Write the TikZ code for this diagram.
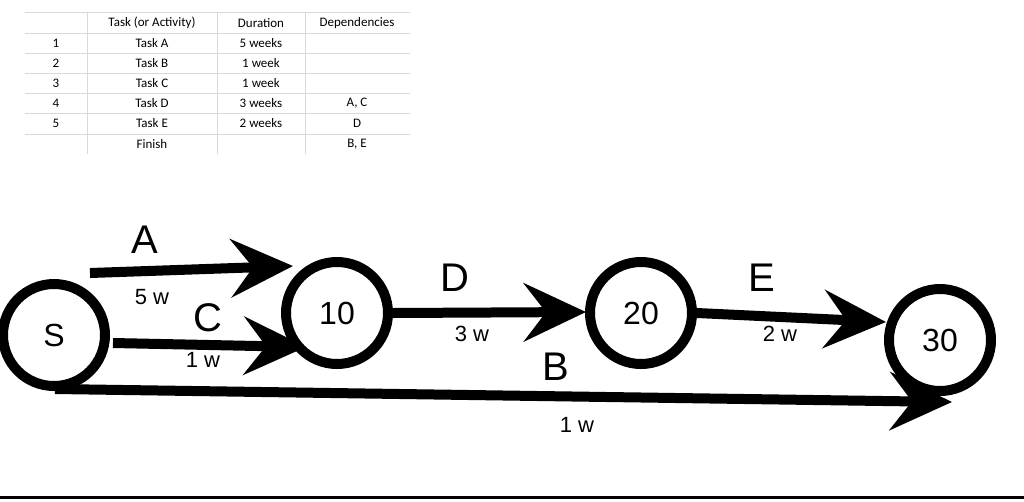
\documentclass[tikz,border=0pt]{standalone}
\usepackage{fontspec}
\setmainfont{Liberation Sans}
\newfontfamily\tabfont{Carlito}
\usetikzlibrary{arrows.meta}
\begin{document}
\begin{tikzpicture}[x=1pt,y=-1pt,
  ev/.style={circle,draw,line width=10pt,minimum size=102pt,inner sep=0pt,font=\fontsize{32}{32}\selectfont},
  act/.style={line width=10pt,-{Stealth[length=62pt,width=58pt,inset=22pt]}},
  big/.style={font=\fontsize{40}{40}\selectfont},
  dur/.style={font=\fontsize{22}{22}\selectfont},
  cell/.style={font=\tabfont\fontsize{13}{13}\selectfont,inner sep=0pt},
  grid/.style={draw=black!15,line width=0.8pt}]
\useasboundingbox (0,0) rectangle (1024,501);
% table
\foreach \y in {12,33,53,73,93,113,134} \draw[grid] (25,\y) -- (410,\y);
\foreach \x in {87,217,305} \draw[grid] (\x,12) -- (\x,154);
\node[cell] (h1) at (152,23) {Task (or Activity)};
\node[cell] (h2) at (261,23) {Duration};
\node[cell] (h3) at (357,23) {Dependencies};
\node[cell] (r1a) at (56,43) {1}; \node[cell] (r1b) at (152,43) {Task A}; \node[cell] (r1c) at (261,43) {5 weeks};
\node[cell] (r2a) at (56,63) {2}; \node[cell] (r2b) at (152,63) {Task B}; \node[cell] (r2c) at (261,63) {1 week};
\node[cell] (r3a) at (56,83) {3}; \node[cell] (r3b) at (152,83) {Task C}; \node[cell] (r3c) at (261,83) {1 week};
\node[cell] (r4a) at (56,103) {4}; \node[cell] (r4b) at (152,103) {Task D}; \node[cell] (r4c) at (261,103) {3 weeks}; \node[cell] (r4d) at (357,103) {A, C};
\node[cell] (r5a) at (56,123) {5}; \node[cell] (r5b) at (152,123) {Task E}; \node[cell] (r5c) at (261,123) {2 weeks}; \node[cell] (r5d) at (357,123) {D};
\node[cell] (r6b) at (152,144) {Finish}; \node[cell] (r6d) at (357,144) {B, E};
% nodes
\node[ev] (S) at (54,335) {S};
\node[ev] (n10) at (337,313) {10};
\node[ev] (n20) at (641,313) {20};
\node[ev] (n30) at (940,340) {30};
\coordinate (a0) at (90,273); \coordinate (a1) at (293,266);
\coordinate (c0) at (113,343); \coordinate (c1) at (306,347);
\coordinate (d1) at (586,312);
\coordinate (e1) at (886,322);
\coordinate (b0) at (55,389); \coordinate (b1) at (952,402);
\draw[act] (a0) -- (a1);
\draw[act] (c0) -- (c1);
\draw[act] (n10.east) -- (d1);
\draw[act] (n20.east) -- (e1);
\draw[act] (b0) -- (b1);
% labels
\node[big] (lA) at (145,240) {A};
\node[dur] (dA) at (152,297) {5 w};
\node[big] (lC) at (208,318) {C};
\node[dur] (dC) at (203,360) {1 w};
\node[big] (lD) at (455,278) {D};
\node[dur] (dD) at (472,334) {3 w};
\node[big] (lE) at (762,278) {E};
\node[dur] (dE) at (780,334) {2 w};
\node[big] (lB) at (556,367) {B};
\node[dur] (dB) at (577,425) {1 w};
\draw[line width=3pt] (0,497) -- (1024,497);
\end{tikzpicture}
\end{document}
